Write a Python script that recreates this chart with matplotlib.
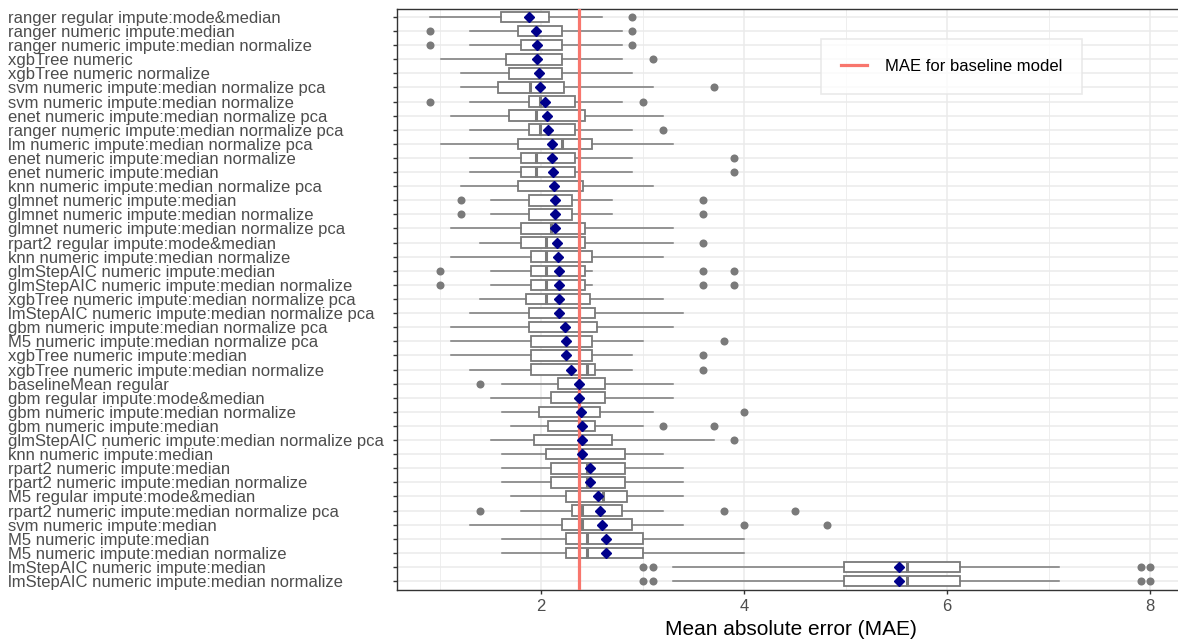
"""Boxplots of cross-validated MAE per model / preprocessing combination."""

import matplotlib
matplotlib.use("Agg")
import matplotlib.pyplot as plt

# rows listed top to bottom
LABELS = [
    "ranger regular impute:mode&median",
    "ranger numeric impute:median",
    "ranger numeric impute:median normalize",
    "xgbTree numeric",
    "xgbTree numeric normalize",
    "svm numeric impute:median normalize pca",
    "svm numeric impute:median normalize",
    "enet numeric impute:median normalize pca",
    "ranger numeric impute:median normalize pca",
    "lm numeric impute:median normalize pca",
    "enet numeric impute:median normalize",
    "enet numeric impute:median",
    "knn numeric impute:median normalize pca",
    "glmnet numeric impute:median",
    "glmnet numeric impute:median normalize",
    "glmnet numeric impute:median normalize pca",
    "rpart2 regular impute:mode&median",
    "knn numeric impute:median normalize",
    "glmStepAIC numeric impute:median",
    "glmStepAIC numeric impute:median normalize",
    "xgbTree numeric impute:median normalize pca",
    "lmStepAIC numeric impute:median normalize pca",
    "gbm numeric impute:median normalize pca",
    "M5 numeric impute:median normalize pca",
    "xgbTree numeric impute:median",
    "xgbTree numeric impute:median normalize",
    "baselineMean regular",
    "gbm regular impute:mode&median",
    "gbm numeric impute:median normalize",
    "gbm numeric impute:median",
    "glmStepAIC numeric impute:median normalize pca",
    "knn numeric impute:median",
    "rpart2 numeric impute:median",
    "rpart2 numeric impute:median normalize",
    "M5 regular impute:mode&median",
    "rpart2 numeric impute:median normalize pca",
    "svm numeric impute:median",
    "M5 numeric impute:median",
    "M5 numeric impute:median normalize",
    "lmStepAIC numeric impute:median",
    "lmStepAIC numeric impute:median normalize",
]

WHISLO = [0.91, 1.30, 1.30, 1.01, 1.21, 1.21, 1.30, 1.11, 1.30, 1.01,
          1.30, 1.30, 1.21, 1.51, 1.51, 1.11, 1.40, 1.11, 1.51, 1.51,
          1.40, 1.30, 1.11, 1.11, 1.11, 1.30, 1.61, 1.51, 1.61, 1.70,
          1.51, 1.61, 1.61, 1.61, 1.70, 1.80, 1.30, 1.61, 1.61, 3.30,
          3.30]
Q1 = [1.60, 1.77, 1.80, 1.65, 1.68, 1.58, 1.88, 1.68, 1.88, 1.77,
      1.80, 1.80, 1.77, 1.88, 1.88, 1.80, 1.80, 1.90, 1.90, 1.90,
      1.85, 1.88, 1.88, 1.90, 1.90, 1.90, 2.17, 2.10, 1.98, 2.07,
      1.93, 2.05, 2.10, 2.10, 2.25, 2.30, 2.21, 2.25, 2.25, 4.98,
      4.98]
MEDIAN = [1.88, 1.95, 1.96, 1.96, 1.98, 1.89, 1.99, 1.95, 1.99, 2.21,
          1.95, 1.95, 2.13, 2.14, 2.14, 2.10, 2.05, 2.05, 2.05, 2.05,
          2.05, 2.18, 2.24, 2.25, 2.25, 2.45, 2.37, 2.37, 2.39, 2.40,
          2.40, 2.40, 2.45, 2.45, 2.61, 2.40, 2.40, 2.45, 2.45, 5.61,
          5.61]
Q3 = [2.08, 2.21, 2.21, 2.21, 2.21, 2.23, 2.33, 2.43, 2.33, 2.50,
      2.33, 2.33, 2.41, 2.30, 2.30, 2.43, 2.43, 2.50, 2.43, 2.43,
      2.48, 2.53, 2.55, 2.50, 2.50, 2.53, 2.63, 2.63, 2.58, 2.53,
      2.70, 2.83, 2.83, 2.83, 2.85, 2.80, 2.90, 3.00, 3.00, 6.13,
      6.13]
WHISHI = [2.60, 2.80, 2.80, 2.80, 2.90, 3.10, 2.80, 3.20, 2.90, 3.30,
          2.90, 2.90, 3.10, 2.70, 2.70, 3.30, 3.30, 3.20, 2.50, 2.50,
          3.20, 3.40, 3.30, 3.00, 2.90, 2.90, 3.30, 3.30, 3.10, 3.00,
          3.70, 3.20, 3.40, 3.40, 3.40, 3.20, 3.40, 4.00, 4.00, 7.10,
          7.10]
MEAN = [1.88, 1.95, 1.96, 1.96, 1.98, 1.99, 2.04, 2.06, 2.07, 2.11,
        2.11, 2.12, 2.13, 2.14, 2.14, 2.14, 2.16, 2.17, 2.18, 2.18,
        2.18, 2.18, 2.24, 2.25, 2.25, 2.29, 2.37, 2.37, 2.39, 2.40,
        2.40, 2.40, 2.48, 2.48, 2.56, 2.58, 2.60, 2.64, 2.64, 5.53,
        5.53]
OUTLIERS = [
    [2.90], [0.91, 2.90], [0.91, 2.90], [3.10], [], [3.70], [0.91, 3.00],
    [], [3.20], [], [3.90], [3.90], [], [1.21, 3.60], [1.21, 3.60], [],
    [3.60], [], [1.00, 3.60, 3.90], [1.00, 3.60, 3.90], [], [], [],
    [3.80], [3.60], [3.60], [1.40], [], [4.00], [3.20, 3.70], [3.90], [],
    [], [], [], [1.40, 3.80, 4.50], [4.00, 4.82], [], [],
    [3.00, 3.10, 7.91, 8.00], [3.00, 3.10, 7.91, 8.00],
]
BASELINE_MAE = 2.37
X_TICKS = [2, 4, 6, 8]

plt.rcParams["font.family"] = ["Liberation Sans", "DejaVu Sans"]

GREY = "#7A7A7A"
TEXT = "#4D4D4D"
GRID = "#EBEBEB"

fig = plt.figure(figsize=(11.78, 6.42), dpi=100)
ax = fig.add_axes([397 / 1178, 52.5 / 642, 788.5 / 1178, 581 / 642])

n = len(LABELS)
pos = [n - 1 - i for i in range(n)]
stats = [
    {"whislo": WHISLO[i], "q1": Q1[i], "med": MEDIAN[i], "q3": Q3[i],
     "whishi": WHISHI[i], "fliers": OUTLIERS[i], "label": LABELS[i]}
    for i in range(n)
]
ax.bxp(stats, positions=pos, widths=0.75, orientation="horizontal",
       showcaps=False, patch_artist=True,
       boxprops=dict(facecolor="white", edgecolor=GREY, linewidth=1.3),
       whiskerprops=dict(color=GREY, linewidth=1.1),
       medianprops=dict(color=GREY, linewidth=2.2),
       flierprops=dict(marker="o", markerfacecolor=GREY, markeredgecolor="none",
                       markersize=5.8),
       zorder=2)

ax.axvline(BASELINE_MAE, color="#F8766D", linewidth=2.3, zorder=3,
           label="MAE for baseline model")
ax.plot(MEAN, pos, linestyle="none", marker="D", markersize=5.0,
        color="#00008B", zorder=4)

ax.set_xlim(0.58, 8.35)
ax.set_ylim(-0.6, n - 0.4)
ax.set_xticks(X_TICKS)
ax.set_xticks([1, 3, 5, 7], minor=True)
ax.set_yticks(pos)
ax.set_yticklabels(LABELS, ha="left")
ax.tick_params(axis="y", length=3, width=1.0, color="#333333", pad=277,
               labelsize=12, labelcolor=TEXT)
ax.tick_params(axis="x", which="major", length=3, width=1.0, color="#333333",
               pad=4, labelsize=12, labelcolor=TEXT)
ax.tick_params(axis="x", which="minor", length=0)
ax.grid(True, which="major", color=GRID, linewidth=1.1, zorder=0)
ax.grid(True, which="minor", axis="x", color=GRID, linewidth=0.6, zorder=0)
ax.set_axisbelow(True)
for side in ax.spines.values():
    side.set_color("#333333")
    side.set_linewidth(1.0)

ax.set_xlabel("Mean absolute error (MAE)", fontsize=15, color="black",
              labelpad=4)

leg = fig.legend(loc="upper left", bbox_to_anchor=(820.7 / 1178, 1 - 39.3 / 642),
                 bbox_transform=fig.transFigure, borderaxespad=0,
                 fontsize=12, frameon=True, fancybox=False, borderpad=1.2,
                 handlelength=1.55, handletextpad=1.1)
leg.get_frame().set_edgecolor("#E5E5E5")
leg.get_frame().set_linewidth(1.2)

fig.savefig("out.png", dpi=100, facecolor="white")
